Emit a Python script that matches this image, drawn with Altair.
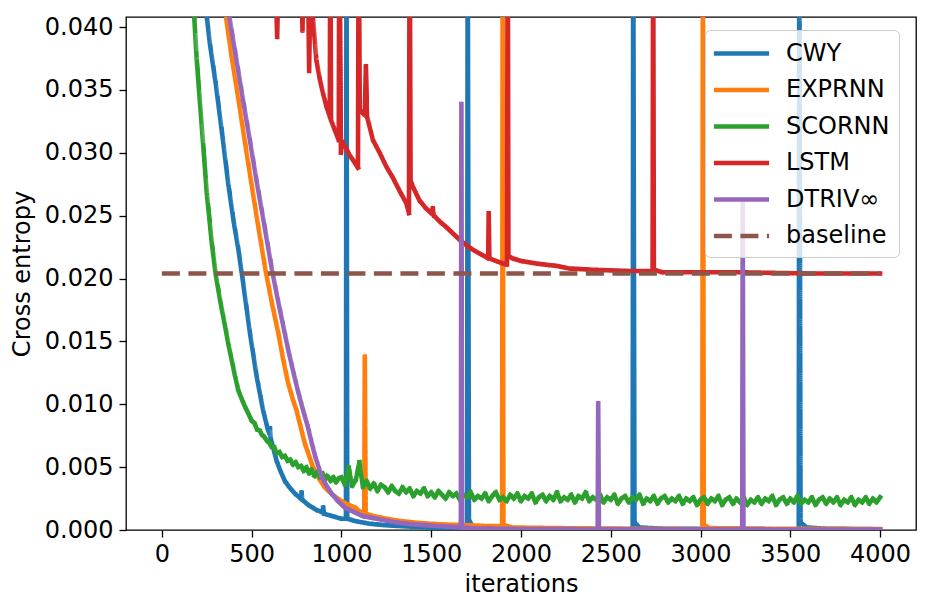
import altair as alt
import pandas as pd

SERIES = ["CWY", "EXPRNN", "SCORNN", "LSTM", "DTRIV∞", "baseline"]
COLORS = ["#1f77b4", "#ff7f0e", "#2ca02c", "#d62728", "#9467bd", "#8c564b"]
X_TICKS = [0, 500, 1000, 1500, 2000, 2500, 3000, 3500, 4000]
Y_TICKS = [0.0, 0.005, 0.010, 0.015, 0.020, 0.025, 0.030, 0.035, 0.040]

CWY_X = [200, 250, 268, 300, 340, 370, 400, 426, 453, 491, 528, 564, 590, 598, 602, 606,
         639, 660, 685, 710, 741, 774, 778, 782, 815, 860, 895, 898, 902, 950, 1000, 1025,
         1028, 1032, 1080, 1157, 1230, 1307, 1400, 1490, 1600, 1700, 1703, 1710, 1730, 1800,
         2000, 2300, 2622, 2625, 2632, 2660, 2800, 3200, 3547, 3550, 3557, 3590, 3700, 4000]
CWY_Y = [0.06, 0.0408, 0.0386, 0.0355, 0.0310, 0.0275, 0.0245, 0.0223, 0.0196, 0.0156,
         0.0122, 0.0095, 0.0080, 0.0077, 0.0081, 0.0073, 0.0055, 0.0047, 0.0039, 0.0034,
         0.0029, 0.0025, 0.0030, 0.0024, 0.0020, 0.0016, 0.0014, 0.0018, 0.0013, 0.0011,
         0.0009, 0.0009, 0.05, 0.0009, 0.0007, 0.0005, 0.0004, 0.00033, 0.00026, 0.0002,
         0.00015, 0.00012, 0.05, 0.0008, 0.0003, 0.00015, 0.0001, 0.00008, 0.00007, 0.05,
         0.0006, 0.0002, 0.0001, 0.00007, 0.00006, 0.05, 0.0006, 0.0002, 0.0001, 0.00006]

EXP_X = [300, 357, 390, 427, 460, 496, 535, 577, 612, 648, 675, 703, 727, 750, 773, 796,
         820, 842, 875, 907, 950, 1000, 1040, 1074, 1100, 1127, 1130, 1134, 1180, 1250, 1306,
         1400, 1491, 1600, 1676, 1800, 1895, 1898, 1902, 1950, 2200, 2600, 3010, 3013, 3018,
         3050, 3400, 4000]
EXP_Y = [0.07, 0.0408, 0.0375, 0.0342, 0.0311, 0.0278, 0.0243, 0.0207, 0.0181, 0.0157,
         0.0136, 0.0117, 0.0105, 0.0095, 0.0082, 0.0069, 0.0059, 0.0050, 0.0041, 0.0034,
         0.0028, 0.0023, 0.0020, 0.0018, 0.0015, 0.0013, 0.0138, 0.0013, 0.0011, 0.0009,
         0.00076, 0.0006, 0.0005, 0.00042, 0.0004, 0.00032, 0.0003, 0.05, 0.0004, 0.0002,
         0.00015, 0.0001, 0.00008, 0.05, 0.0004, 0.00015, 0.0001, 0.00008]

SCO_HEAD_X = [100, 180, 194, 222, 250, 278, 300, 325, 352, 370, 389, 408, 426, 445, 463, 480,
              500, 515, 530, 545, 556, 570, 585, 600, 611, 625, 640, 655, 670, 685, 700, 715,
              730, 745, 759, 775, 790, 805, 820, 833, 850, 865, 880, 895, 907, 920, 940, 955,
              970, 985]
SCO_HEAD_Y = [0.08, 0.0408, 0.0374, 0.0321, 0.0268, 0.0228, 0.0203, 0.0182, 0.0162, 0.0148,
              0.0135, 0.0122, 0.0111, 0.0104, 0.0098, 0.0093, 0.0087, 0.0085, 0.0080, 0.0079,
              0.0076, 0.0074, 0.0071, 0.0069, 0.0066, 0.0066, 0.0061, 0.0062, 0.0058, 0.0059,
              0.0055, 0.0056, 0.0052, 0.0054, 0.0050, 0.0051, 0.0047, 0.0050, 0.0045, 0.0048,
              0.0043, 0.0046, 0.0042, 0.0045, 0.0040, 0.0043, 0.0039, 0.0042, 0.0038, 0.0041]
SCO_TAIL_X = list(range(1000, 4001, 20))
SCO_TAIL_Y = [
    0.0042, 0.0036, 0.0050, 0.0035, 0.0040, 0.0054, 0.0034, 0.0039, 0.0033, 0.0037,
    0.0031, 0.0036, 0.0034, 0.0030, 0.0035, 0.0031, 0.0029, 0.0034, 0.0030, 0.0033,
    0.0027, 0.0031, 0.0029, 0.0033, 0.0027, 0.0030, 0.0026, 0.0031, 0.0028, 0.0025,
    0.0030, 0.0027, 0.0029, 0.0024, 0.0028, 0.0026, 0.0030, 0.0024, 0.0027, 0.0025,
    0.0029, 0.0023, 0.0027, 0.0030, 0.0024, 0.0026, 0.0023, 0.0028, 0.0025, 0.0029,
    0.0023, 0.0027, 0.0025, 0.0029, 0.0022, 0.0026, 0.0028, 0.0023, 0.0027, 0.0024,
    0.0030, 0.0023, 0.0026, 0.0024, 0.0028, 0.0022, 0.0027, 0.0025, 0.0030, 0.0023,
    0.0026, 0.0024, 0.0028, 0.0022, 0.0026, 0.0024, 0.0028, 0.0021, 0.0025, 0.0027,
    0.0022, 0.0026, 0.0024, 0.0028, 0.0021, 0.0025, 0.0023, 0.0027, 0.0021, 0.0025,
    0.0027, 0.0022, 0.0025, 0.0023, 0.0027, 0.0021, 0.0025, 0.0023, 0.0026, 0.0020,
    0.0024, 0.0026, 0.0021, 0.0025, 0.0023, 0.0027, 0.0020, 0.0024, 0.0026, 0.0021,
    0.0025, 0.0022, 0.0026, 0.0020, 0.0024, 0.0022, 0.0026, 0.0021, 0.0025, 0.0023,
    0.0027, 0.0020, 0.0024, 0.0026, 0.0021, 0.0025, 0.0022, 0.0027, 0.0021, 0.0024,
    0.0022, 0.0026, 0.0020, 0.0024, 0.0026, 0.0021, 0.0025, 0.0022, 0.0026, 0.0020,
    0.0024, 0.0022, 0.0026, 0.0020, 0.0024, 0.0022, 0.0026, 0.0021, 0.0025, 0.0022,
    0.0026]
SCO_X = SCO_HEAD_X + SCO_TAIL_X
SCO_Y = SCO_HEAD_Y + SCO_TAIL_Y

LSTM_X = [0, 630, 642, 652, 775, 783, 790, 812, 820, 830, 841, 860, 880, 898, 918, 935, 938,
          942, 963, 985, 988, 997, 1003, 1025, 1046, 1070, 1092, 1096, 1102, 1130, 1136, 1142,
          1176, 1213, 1250, 1287, 1330, 1361, 1376, 1380, 1385, 1398, 1435, 1470, 1500, 1509,
          1515, 1550, 1583, 1620, 1657, 1700, 1731, 1768, 1806, 1817, 1820, 1824, 1860, 1898,
          1922, 1926, 1930, 1954, 2000, 2083, 2139, 2200, 2269, 2400, 2600, 2733, 2736, 2740,
          2787, 2880, 3200, 3600, 4000]
LSTM_Y = [0.1, 0.045, 0.0392, 0.046, 0.046, 0.0397, 0.046, 0.046, 0.0365, 0.046, 0.0408,
          0.0374, 0.0358, 0.0347, 0.0336, 0.0329, 0.05, 0.0326, 0.0318, 0.0310, 0.05, 0.0300,
          0.0309, 0.0304, 0.0298, 0.0293, 0.0288, 0.05, 0.0334, 0.0330, 0.0369, 0.0329,
          0.0310, 0.0300, 0.0289, 0.0280, 0.0268, 0.0260, 0.0252, 0.05, 0.0278, 0.0273,
          0.0262, 0.0256, 0.0252, 0.0256, 0.0250, 0.0245, 0.0241, 0.0236, 0.0231, 0.0226,
          0.0223, 0.0220, 0.0217, 0.0216, 0.0252, 0.0216, 0.0214, 0.0212, 0.0211, 0.05,
          0.0218, 0.0216, 0.0214, 0.0212, 0.0211, 0.0210, 0.0208, 0.0207, 0.0206, 0.0206,
          0.05, 0.0207, 0.0205, 0.0205, 0.0205, 0.0204, 0.0204]

DTR_X = [320, 376, 414, 452, 490, 527, 570, 613, 646, 675, 704, 730, 757, 785, 813, 835, 855,
         873, 891, 918, 945, 980, 1018, 1074, 1120, 1157, 1230, 1306, 1400, 1491, 1580, 1665,
         1668, 1672, 1750, 2000, 2427, 2430, 2434, 2800, 3232, 3235, 3239, 3600, 4000]
DTR_Y = [0.07, 0.0408, 0.0375, 0.0342, 0.0310, 0.0278, 0.0243, 0.0207, 0.0183, 0.0163,
         0.0143, 0.0127, 0.0111, 0.0096, 0.0082, 0.0069, 0.0058, 0.0050, 0.0042, 0.0035,
         0.0029, 0.0023, 0.0018, 0.0014, 0.0011, 0.0010, 0.0008, 0.0006, 0.00045, 0.00036,
         0.00028, 0.00022, 0.0339, 0.0002, 0.00012, 0.00008, 0.00006, 0.0101, 0.00006,
         0.00005, 0.00005, 0.0263, 0.00005, 0.00004, 0.00004]

BASE_X = [0, 4000]
BASE_Y = [0.0204, 0.0204]

parts = []
for name, xs, ys in [("CWY", CWY_X, CWY_Y), ("EXPRNN", EXP_X, EXP_Y),
                     ("SCORNN", SCO_X, SCO_Y), ("LSTM", LSTM_X, LSTM_Y),
                     ("DTRIV∞", DTR_X, DTR_Y), ("baseline", BASE_X, BASE_Y)]:
    for i, (xv, yv) in enumerate(zip(xs, ys)):
        parts.append({"series": name, "it": xv, "ce": yv, "idx": i})
df = pd.DataFrame(parts)

FONT = "DejaVu Sans"
LW = 4.6

legend = alt.Legend(
    title=None, orient="none", legendX=579, legendY=13,
    symbolType="M-2.3,0H2.3", symbolSize=576, symbolStrokeWidth=LW, symbolOffset=13,
    labelFontSize=24, labelFont=FONT, labelColor="black", labelOffset=30,
    rowPadding=9.5, padding=9, fillColor="rgba(255,255,255,0.8)",
    strokeColor="#cccccc", cornerRadius=5, labelLimit=300,
)

color = alt.Color("series:N", scale=alt.Scale(domain=SERIES, range=COLORS), legend=legend)
dash = alt.StrokeDash("series:N", scale=alt.Scale(
    domain=SERIES, range=[[1, 0], [1, 0], [1, 0], [1, 0], [1, 0], [18, 8.5]]), legend=legend)

xenc = alt.X("it:Q", scale=alt.Scale(domain=[-200, 4200], nice=False, zero=False),
             axis=alt.Axis(title="iterations", values=X_TICKS, format="d"))
yenc = alt.Y("ce:Q", scale=alt.Scale(domain=[0, 0.0408], nice=False, zero=False),
             axis=alt.Axis(title="Cross entropy", values=Y_TICKS, format=".3f"))

layers = []
for name in SERIES:
    layers.append(
        alt.Chart(df).transform_filter(alt.datum.series == name)
        .mark_line(clip=True, strokeWidth=LW, strokeJoin="round",
                   strokeCap="butt" if name == "baseline" else "square")
        .encode(x=xenc, y=yenc, color=color, strokeDash=dash, order="idx:Q")
    )

chart = alt.layer(*layers).properties(
    width=790, height=513,
    autosize=alt.AutoSizeParams(type="none"),
    padding={"left": 118, "top": 9, "right": 10, "bottom": 70},
).configure_view(stroke="black", strokeWidth=1.3).configure_axis(
    grid=False, domain=False, ticks=True, tickSize=7, tickWidth=1.3, tickColor="black",
    labelFont=FONT, labelFontSize=24, labelColor="black",
    titleFont=FONT, titleFontSize=24, titleFontWeight="normal", titleColor="black",
).configure_axisX(labelPadding=5, titlePadding=6).configure_axisY(
    labelPadding=6, titlePadding=10)

chart.save("out.html", embed_options={"renderer": "svg", "actions": False})
